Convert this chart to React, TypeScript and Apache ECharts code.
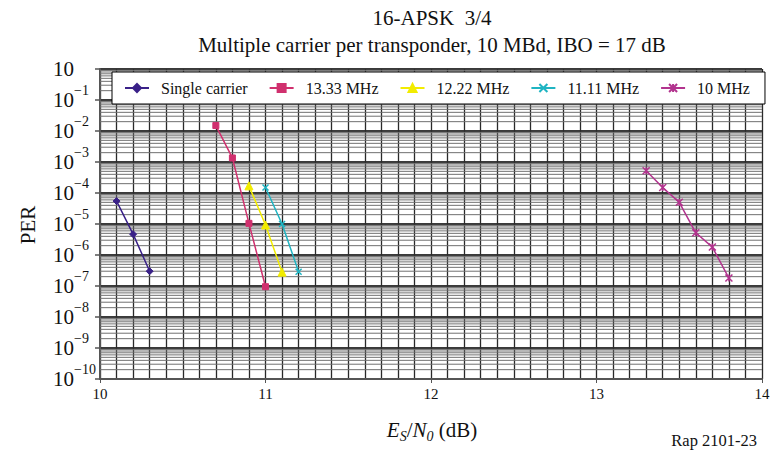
import React, { useEffect, useRef } from "react";
import * as echarts from "echarts";

const FONT = "Liberation Serif";

const xTicks = [10, 11, 12, 13, 14];
const yExponents = [0, -1, -2, -3, -4, -5, -6, -7, -8, -9, -10];

const singleX = [10.1, 10.2, 10.3];
const singleY = [5.5e-5, 4.7e-6, 3.0e-7];

const m1333X = [10.7, 10.8, 10.9, 11.0];
const m1333Y = [1.5e-2, 1.35e-3, 1.05e-5, 9.5e-8];

const m1222X = [10.9, 11.0, 11.1];
const m1222Y = [1.7e-4, 9.3e-6, 2.8e-7];

const m1111X = [11.0, 11.1, 11.2];
const m1111Y = [1.5e-4, 1.0e-5, 2.9e-7];

const m10X = [13.3, 13.4, 13.5, 13.6, 13.7, 13.8];
const m10Y = [5.2e-4, 1.5e-4, 5.0e-5, 5.2e-6, 1.8e-6, 1.8e-7];

const names = ["Single carrier", "13.33 MHz", "12.22 MHz", "11.11 MHz", "10 MHz"];
const colors = ["#3a2188", "#d0306e", "#f2ec00", "#1fb4c2", "#b2338e"];

const zip = (xs: number[], ys: number[]) => xs.map((x, i) => [x, ys[i]]);

export default function App() {
  const ref = useRef<HTMLDivElement>(null);
  useEffect(() => {
    document.body.style.margin = "0";
    if (!ref.current) return;
    const chart = echarts.init(ref.current, undefined, { renderer: "svg" });

    const xMin = xTicks[0];
    const xMax = xTicks[xTicks.length - 1];
    const minorData: any[] = [];
    for (let e = yExponents[yExponents.length - 1]; e < yExponents[0]; e++) {
      for (let k = 2; k <= 9; k++) {
        const v = Number((k * Math.pow(10, e)).toPrecision(3));
        minorData.push([xMin, v], [xMax, v], [xMax, "-"]);
      }
    }

    const mk = (
      i: number,
      data: number[][],
      symbol: string,
      symbolSize: number,
      extra: any = {}
    ) => ({
      name: names[i],
      type: "line",
      data,
      symbol,
      symbolSize,
      z: 5,
      lineStyle: { color: colors[i], width: 1.5 },
      itemStyle: { color: colors[i], borderColor: colors[i], borderWidth: 1, ...extra },
    });

    chart.setOption({
      animation: false,
      textStyle: { fontFamily: FONT },
      grid: { left: 100, right: 8, top: 69, bottom: 74, outerBoundsMode: "none" },
      legend: {
        data: names,
        left: 112,
        top: 72,
        padding: [8, 15, 8, 12],
        itemWidth: 24,
        itemHeight: 10,
        itemGap: 21,
        selectedMode: false,
        backgroundColor: "#ffffff",
        borderColor: "#000000",
        borderWidth: 1,
        borderRadius: 0,
        textStyle: {
          fontFamily: FONT,
          fontSize: 16,
          color: "#111",
          padding: [0, 0, 0, 7],
        },
      },
      xAxis: {
        type: "value",
        min: xMin,
        max: xMax,
        interval: 1,
        axisLine: { show: true, onZero: false, lineStyle: { color: "#555", width: 2 } },
        axisTick: { show: true, length: 4, lineStyle: { color: "#555", width: 1 } },
        axisLabel: { fontFamily: FONT, fontSize: 15, color: "#111", margin: 7 },
        splitLine: { show: true, lineStyle: { color: "#2a2a2a", width: 1.3 } },
        minorTick: { show: false, splitNumber: 10 },
        minorSplitLine: { show: true, lineStyle: { color: "#2a2a2a", width: 1.3 } },
      },
      yAxis: {
        type: "log",
        logBase: 10,
        min: Math.pow(10, yExponents[yExponents.length - 1]),
        max: Math.pow(10, yExponents[0]),
        interval: 1,
        axisLine: { show: true, lineStyle: { color: "#555", width: 2 } },
        axisTick: { show: true, length: 5, lineStyle: { color: "#555", width: 1.5 } },
        axisLabel: {
          align: "left",
          margin: 47,
          color: "#111",
          fontFamily: FONT,
          formatter: (v: number) => {
            const e = Math.round(Math.log10(v));
            if (e === 0) return "{b|10}";
            return `{b|10}{s|\u2212${-e}}`;
          },
          rich: {
            b: { fontFamily: FONT, fontSize: 21, color: "#111" },
            s: { fontFamily: FONT, fontSize: 14, color: "#111", padding: [0, 0, 20, 0] },
          },
        },
        splitLine: { show: true, lineStyle: { color: "#3a3a3a", width: 2 } },
      },
      series: [
        {
          name: "__minor",
          type: "line",
          data: minorData,
          silent: true,
          z: 1,
          symbol: "none",
          connectNulls: false,
          lineStyle: { color: "#707070", width: 1 },
          emphasis: { disabled: true },
        },
        mk(0, zip(singleX, singleY), "diamond", 7),
        mk(1, zip(m1333X, m1333Y), "rect", 6),
        mk(2, zip(m1222X, m1222Y), "triangle", 8),
        mk(3, zip(m1111X, m1111Y), "path://M0,0L10,10M10,0L0,10", 6, { borderWidth: 1.5 }),
        mk(4, zip(m10X, m10Y), "path://M0,0L10,10M10,0L0,10M5,0L5,10", 7, { borderWidth: 1.5 }),
      ],
      graphic: [
        {
          type: "text",
          x: 432,
          y: 18,
          style: {
            text: "16-APSK  3/4",
            fontFamily: FONT,
            fontSize: 21,
            fill: "#111",
            align: "center",
            verticalAlign: "middle",
          },
        },
        {
          type: "text",
          x: 432,
          y: 45,
          style: {
            text: "Multiple carrier per transponder, 10 MBd, IBO = 17 dB",
            fontFamily: FONT,
            fontSize: 21,
            fill: "#111",
            align: "center",
            verticalAlign: "middle",
          },
        },
        {
          type: "text",
          x: 28,
          y: 225,
          rotation: Math.PI / 2,
          style: {
            text: "PER",
            fontFamily: FONT,
            fontSize: 21,
            fill: "#111",
            align: "center",
            verticalAlign: "middle",
          },
        },
        {
          type: "text",
          x: 432,
          y: 430,
          style: {
            text: "{i|E}{s|S}{n|/}{i|N}{s|0}{n| (dB)}",
            align: "center",
            verticalAlign: "middle",
            rich: {
              i: { fontFamily: FONT, fontSize: 21, fontStyle: "italic", fill: "#111", color: "#111" },
              n: { fontFamily: FONT, fontSize: 21, fill: "#111", color: "#111" },
              s: {
                fontFamily: FONT,
                fontSize: 14,
                fontStyle: "italic",
                fill: "#111",
                color: "#111",
                padding: [12, 0, 0, 0],
              },
            },
          },
        },
        {
          type: "text",
          x: 757,
          y: 440,
          style: {
            text: "Rap 2101-23",
            fontFamily: FONT,
            fontSize: 16.5,
            fill: "#111",
            align: "right",
            verticalAlign: "middle",
          },
        },
      ],
    });
    return () => chart.dispose();
  }, []);
  return <div ref={ref} style={{ width: 770, height: 453 }} />;
}
